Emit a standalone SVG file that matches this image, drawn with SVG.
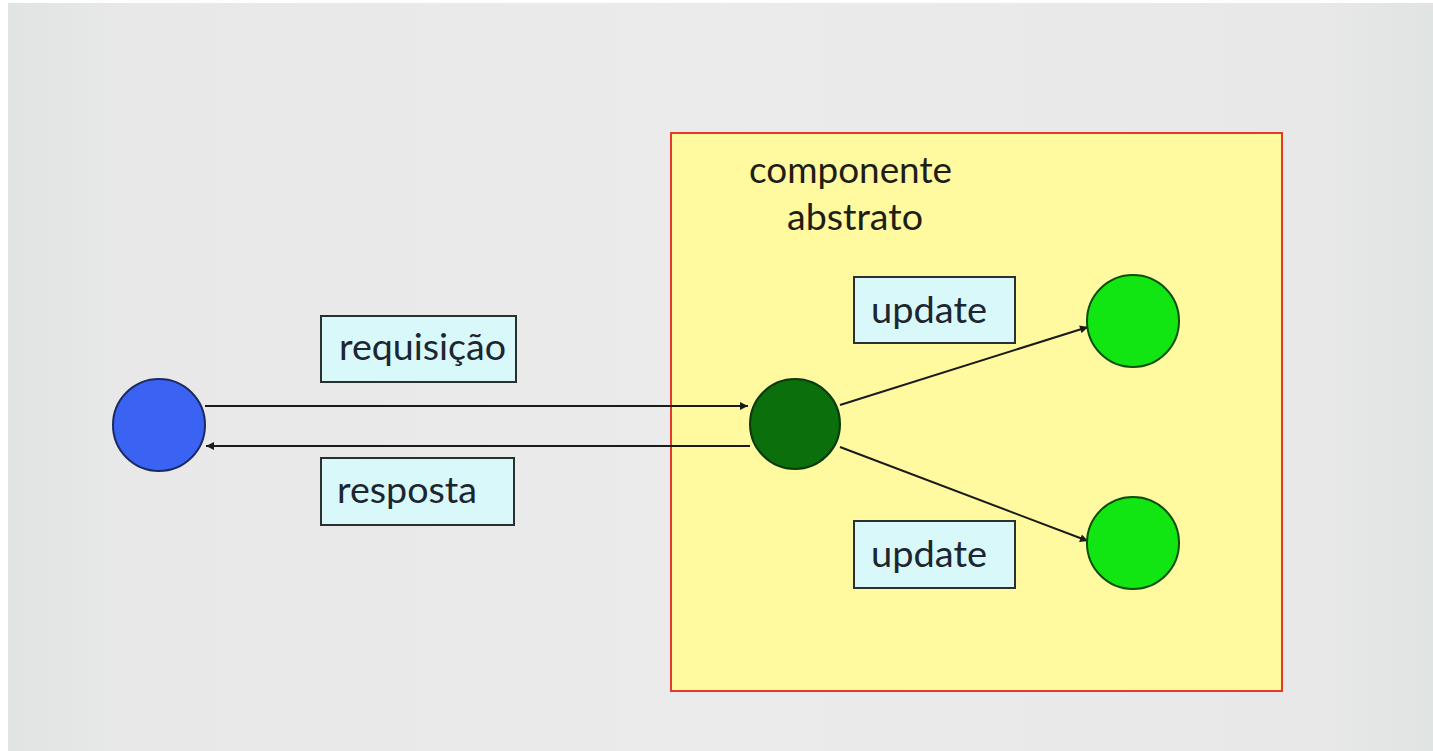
<svg xmlns="http://www.w3.org/2000/svg" width="1433" height="751" viewBox="0 0 1433 751">
  <defs>
    <linearGradient id="bg" x1="0" y1="0" x2="1" y2="0">
      <stop offset="0" stop-color="#E0E4E3"/>
      <stop offset="0.08" stop-color="#E8E8E8"/>
      <stop offset="0.5" stop-color="#EBEBEB"/>
      <stop offset="0.92" stop-color="#E8E8E8"/>
      <stop offset="1" stop-color="#E0E4E3"/>
    </linearGradient>
    <marker id="arrow" viewBox="0 0 10 10" refX="10" refY="5" markerWidth="10" markerHeight="8" markerUnits="userSpaceOnUse" orient="auto">
      <path d="M0,0 L10,5 L0,10 Z" fill="#1a1a1a"/>
    </marker>
    <style>
      .label-box { fill: #D9F8FA; stroke: #2a2f2f; stroke-width: 2; }
      .label-text { font-family: Lato, "Open Sans", "Liberation Sans", sans-serif; font-size: 36px; fill: #1c2630; }
      .title-text { font-family: Lato, "Open Sans", "Liberation Sans", sans-serif; font-size: 36px; fill: #1e1e14; }
      .conn { stroke: #1a1a1a; stroke-width: 2; fill: none; marker-end: url(#arrow); }
      .node { stroke-width: 2; }
    </style>
  </defs>

  <rect x="0" y="0" width="1433" height="751" fill="#FFFFFF"/>
  <rect x="8" y="3" width="1425" height="748" fill="url(#bg)"/>

  <g id="componente-abstrato">
    <rect x="671" y="133" width="611" height="558" fill="#FFF9A0" stroke="#E5392E" stroke-width="2"/>
    <text class="title-text" x="749" y="183" textLength="203" lengthAdjust="spacingAndGlyphs">componente</text>
    <text class="title-text" x="787" y="230" textLength="136" lengthAdjust="spacingAndGlyphs">abstrato</text>
  </g>

  <g id="connectors">
    <line class="conn" x1="205" y1="406" x2="748" y2="406"/>
    <line class="conn" x1="750" y1="446" x2="206" y2="446"/>
    <line class="conn" x1="840" y1="405" x2="1088" y2="327"/>
    <line class="conn" x1="840" y1="447" x2="1088" y2="541"/>
  </g>

  <g id="cliente">
    <circle class="node" cx="159" cy="425" r="46" fill="#3A63F3" stroke="#1B2A60"/>
  </g>

  <g id="no-central">
    <circle class="node" cx="795" cy="424" r="45" fill="#0B6F0B" stroke="#0B3B0B"/>
  </g>

  <g id="no-superior">
    <circle class="node" cx="1133" cy="321" r="46" fill="#12E612" stroke="#0B4F0B"/>
  </g>

  <g id="no-inferior">
    <circle class="node" cx="1133" cy="543" r="46" fill="#12E612" stroke="#0B4F0B"/>
  </g>

  <g id="label-requisicao">
    <rect class="label-box" x="321" y="316" width="195" height="66"/>
    <text class="label-text" x="339" y="360" textLength="167" lengthAdjust="spacingAndGlyphs">requisição</text>
  </g>

  <g id="label-resposta">
    <rect class="label-box" x="321" y="458" width="193" height="67"/>
    <text class="label-text" x="337" y="503" textLength="140" lengthAdjust="spacingAndGlyphs">resposta</text>
  </g>

  <g id="label-update-1">
    <rect class="label-box" x="854" y="277" width="161" height="66"/>
    <text class="label-text" x="871" y="323" textLength="116" lengthAdjust="spacingAndGlyphs">update</text>
  </g>

  <g id="label-update-2">
    <rect class="label-box" x="854" y="521" width="161" height="67"/>
    <text class="label-text" x="871" y="567" textLength="116" lengthAdjust="spacingAndGlyphs">update</text>
  </g>
</svg>
